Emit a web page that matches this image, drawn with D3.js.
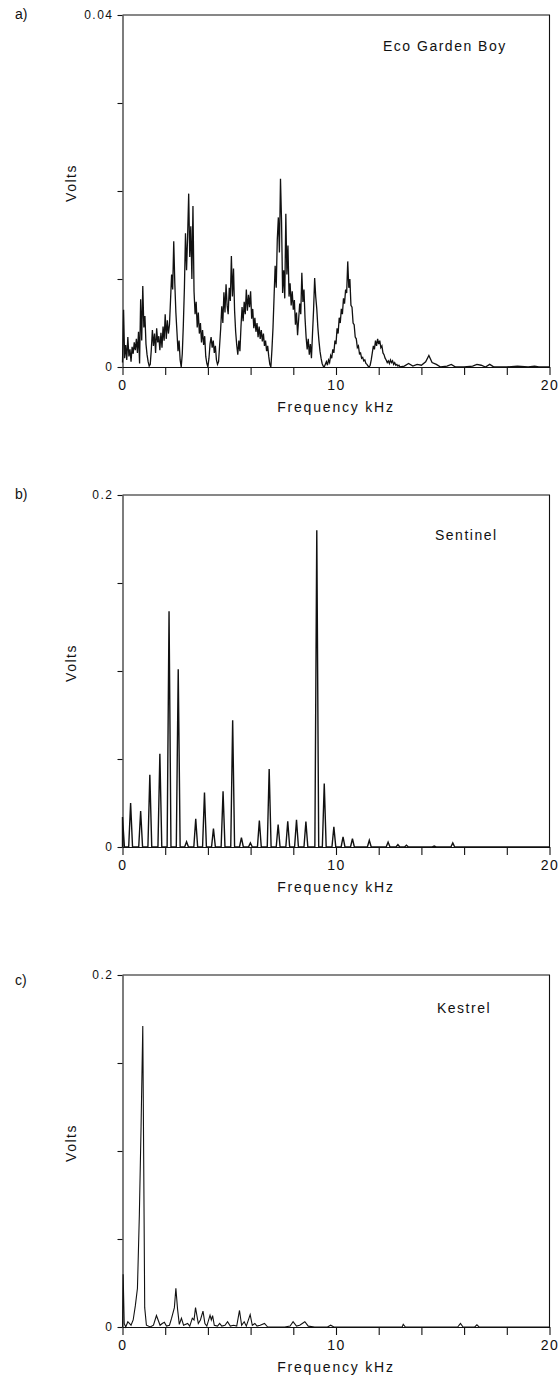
<!DOCTYPE html>
<html lang="en">
<head>
<meta charset="UTF-8">
<title>Frequency spectra</title>
<script src="https://cdn.jsdelivr.net/npm/d3@7"></script>
<style>
  body { margin: 0; background: #fff; }
  svg text { font-family: "Liberation Sans", Arial, Helvetica, sans-serif; fill: #111; }
</style>
</head>
<body>
<script>
// ---- data ----
// a) Eco Garden Boy, mV, sampled every 0.05 kHz from 0 to 13 kHz
const ecoStep = 0.05
const ecoVolts = [
  0.5, 6.5, 1.0, 2.5, 0.8, 3.4, 1.2, 2.0, 0.6, 2.3, 1.5, 2.8, 1.9, 3.2, 1.6, 4.0, 0.4, 7.7, 3.0, 9.2,
  4.5, 5.8, 2.6, 1.4, 0.6, 0.1, 0.3, 2.0, 4.2, 2.4, 3.8, 1.6, 4.4, 2.8, 3.5, 1.9, 3.9, 2.2, 4.6, 3.0,
  6.0, 3.2, 5.3, 3.8, 4.8, 7.6, 10.5, 8.8, 14.3, 9.5, 6.2, 4.0, 1.8, 3.0, 0.8, 0.0, 1.5, 4.8, 9.0, 15.2,
  11.0, 14.8, 19.7, 12.5, 16.0, 10.0, 18.3, 8.6, 6.0, 7.4, 4.5, 6.2, 3.8, 5.0, 2.8, 4.2, 2.5, 3.5, 1.2, 0.4,
  0.0, 1.0, 2.6, 3.4, 2.2, 3.0, 1.6, 2.4, 0.8, 0.3, 0.6, 2.5, 4.4, 6.9, 5.0, 8.5, 6.2, 9.4, 7.0, 6.0,
  9.0, 7.5, 12.6, 8.0, 11.2, 6.4, 4.0, 2.5, 1.4, 3.0, 1.8, 4.6, 6.8, 5.2, 7.4, 6.0, 8.8, 6.4, 8.2, 6.8,
  8.6, 5.5, 6.6, 4.4, 5.6, 4.0, 5.0, 3.4, 4.6, 3.2, 4.2, 2.9, 3.8, 2.4, 3.0, 1.8, 2.4, 1.2, 0.3, 0.0,
  2.0, 4.5, 8.0, 11.5, 9.0, 14.5, 17.0, 13.0, 21.4, 16.5, 8.4, 11.0, 7.8, 17.4, 10.5, 13.8, 8.0, 9.5, 7.0, 8.6,
  6.5, 7.6, 4.8, 6.2, 3.6, 5.4, 7.2, 6.0, 10.7, 7.4, 8.8, 5.5, 3.4, 2.0, 3.2, 1.4, 2.6, 1.0, 3.8, 6.5,
  10.1, 8.0, 6.6, 4.5, 3.0, 1.8, 1.0, 0.4, 0.1, 0.0, 0.3, 0.6, 0.2, 0.8, 0.5, 1.3, 1.0, 2.0, 1.6, 3.0,
  2.6, 4.4, 3.8, 5.6, 5.0, 6.6, 6.0, 7.8, 7.2, 8.8, 8.4, 12.0, 9.0, 10.0, 7.0, 6.8, 5.0, 4.8, 3.4, 3.2,
  2.2, 2.4, 1.5, 1.6, 1.0, 1.1, 0.7, 0.8, 0.4, 0.3, 0.1, 0.0, 0.2, 0.8, 1.6, 2.4, 2.0, 3.0, 2.4, 3.2,
  2.6, 3.0, 2.2, 2.4, 1.6, 1.4, 1.0, 0.8, 0.5, 0.7, 0.4, 0.8, 0.5, 0.7, 0.3, 0.5, 0.2, 0.3, 0.1, 0.2,
  0.0
]
const ecoTailFreq = [13.2, 13.4, 13.6, 13.8, 14.0, 14.2, 14.35, 14.5, 14.7, 14.9, 15.2, 15.4, 15.6, 16.0, 16.4, 16.6, 16.8, 17.0, 17.2, 17.4, 18.0, 18.5, 19.0, 19.3, 19.5, 20]
const ecoTailVolts = [0.1, 0.4, 0.1, 0.3, 0.2, 0.6, 1.3, 0.5, 0.3, 0.0, 0.1, 0.3, 0.0, 0.0, 0.1, 0.3, 0.2, 0.0, 0.3, 0.0, 0.0, 0.1, 0.0, 0.1, 0.0, 0.0]

// b) Sentinel, harmonic peaks (kHz, V)
const sentFreq = [0.0, 0.38, 0.85, 1.28, 1.75, 2.18, 2.61, 3.0, 3.43, 3.84, 4.26, 4.71, 5.16, 5.57, 5.99, 6.41, 6.87, 7.29, 7.74, 8.15, 8.59, 9.10, 9.45, 9.90, 10.33, 10.77, 11.56, 12.44, 12.90, 13.30, 14.60, 15.47]
const sentVolts = [0.017, 0.025, 0.0205, 0.041, 0.053, 0.134, 0.101, 0.003, 0.016, 0.031, 0.0104, 0.0316, 0.072, 0.0053, 0.0023, 0.015, 0.0443, 0.0127, 0.0146, 0.0155, 0.0144, 0.180, 0.036, 0.0114, 0.0057, 0.0047, 0.0038, 0.0028, 0.0013, 0.001, 0.0005, 0.0023]

// c) Kestrel (kHz, V)
const kesFreq = [0, 0.03, 0.08, 0.15, 0.25, 0.4, 0.5, 0.6, 0.7, 0.79, 0.87, 0.95, 1.04, 1.12, 1.3, 1.45, 1.59, 1.76, 1.86, 1.96, 2.06, 2.2, 2.3, 2.43, 2.5, 2.58, 2.66, 2.76, 2.86, 3.05, 3.15, 3.27, 3.35, 3.42, 3.55, 3.65, 3.77, 3.86, 3.95, 4.1, 4.16, 4.22, 4.3, 4.45, 4.55, 4.65, 4.8, 4.92, 5.05, 5.2, 5.35, 5.48, 5.58, 5.7, 5.8, 5.98, 6.08, 6.2, 6.3, 6.45, 6.65, 6.8, 7.0, 7.6, 7.85, 7.99, 8.15, 8.3, 8.54, 8.7, 9.0, 9.6, 9.75, 9.9, 10.5, 12.0, 13.1, 13.15, 13.25, 15.7, 15.83, 15.95, 16.5, 16.6, 16.7, 20]
const kesVolts = [0.0, 0.030, 0.002, 0.0, 0.003, 0.001, 0.004, 0.012, 0.022, 0.064, 0.114, 0.171, 0.011, 0.001, 0.0, 0.001, 0.0065, 0.001, 0.002, 0.0027, 0.0005, 0.001, 0.005, 0.011, 0.022, 0.010, 0.0015, 0.005, 0.001, 0.002, 0.0005, 0.005, 0.004, 0.011, 0.002, 0.004, 0.009, 0.002, 0.0005, 0.0067, 0.004, 0.0065, 0.001, 0.0005, 0.002, 0.0005, 0.001, 0.003, 0.0005, 0.001, 0.0005, 0.0094, 0.001, 0.003, 0.0005, 0.007, 0.001, 0.002, 0.0005, 0.001, 0.002, 0.0, 0.0, 0.0, 0.0005, 0.003, 0.0005, 0.001, 0.003, 0.0005, 0.0, 0.0, 0.001, 0.0, 0.0, 0.0, 0.0, 0.0015, 0.0, 0.0, 0.002, 0.0, 0.0, 0.0012, 0.0, 0.0]

const xTicks = [0, 2, 4, 6, 8, 10, 12, 14, 16, 18, 20]
const xLabels = [0, 10, 20]

// ---- layout ----
const width = 558, height = 1376
const left = 122.5, right = 549.5, plotH = 352
const peakHalf = 0.09 // kHz half width of a Sentinel spike

const ecoPts = ecoVolts.map((v, i) => [i * ecoStep, v / 1000])
  .concat(ecoTailFreq.map((f, i) => [f, ecoTailVolts[i] / 1000]))

const sentPts = []
sentFreq.forEach((f, i) => {
  sentPts.push([Math.max(0, f - peakHalf), 0], [f, sentVolts[i]], [f + peakHalf, 0])
})
sentPts.push([20, 0])

const kesPts = kesFreq.map((f, i) => [f, kesVolts[i]])

const panels = [
  { tag: 'a)', top: 15, ymax: 0.04, topLabel: '0.04', name: 'Eco Garden Boy', nameX: 383, nameDy: 36, tagDy: 4, pts: ecoPts, sw: 1.3 },
  { tag: 'b)', top: 495, ymax: 0.2, topLabel: '0.2', name: 'Sentinel', nameX: 435, nameDy: 45, tagDy: 4, pts: sentPts, sw: 1.4 },
  { tag: 'c)', top: 975, ymax: 0.2, topLabel: '0.2', name: 'Kestrel', nameX: 437, nameDy: 38, tagDy: 10, pts: kesPts, sw: 1.1 }
]

const svg = d3.select('body').append('svg')
    .attr('width', width)
    .attr('height', height)

const x = d3.scaleLinear().domain([0, 20]).range([left, right])

panels.forEach(p => {
  const y = d3.scaleLinear().domain([0, p.ymax]).range([p.top + plotH, p.top])
  const g = svg.append('g')

  // frame (top + right)
  g.append('path')
      .attr('d', `M${x(0)},${y(p.ymax)}H${x(20)}V${y(0)}`)
      .attr('fill', 'none')
      .attr('stroke', '#111')
      .attr('stroke-width', 1.1)

  const yTicks = [0, 0.25, 0.5, 0.75, 1].map(k => k * p.ymax)
  g.append('g')
      .attr('transform', `translate(${left},0)`)
      .call(d3.axisLeft(y).tickValues(yTicks).tickSize(5).tickSizeOuter(0).tickPadding(4)
        .tickFormat(d => d === 0 ? '0' : (d === p.ymax ? p.topLabel : '')))
      .call(s => s.selectAll('text').attr('font-size', 12).attr('letter-spacing', 1.5).attr('font-family', null))

  g.append('g')
      .attr('transform', `translate(0,${y(0)})`)
      .call(d3.axisBottom(x).tickValues(xTicks).tickSize(8).tickSizeOuter(0).tickPadding(5)
        .tickFormat(d => xLabels.includes(d) ? d : ''))
      .call(s => s.selectAll('text').attr('font-size', 14).attr('letter-spacing', 1.5).attr('font-family', null))

  svg.selectAll('.domain, .tick line').attr('stroke', '#111').attr('stroke-width', 1.1)

  // spectrum
  g.append('path')
      .datum(p.pts)
      .attr('fill', 'none')
      .attr('stroke', '#111')
      .attr('stroke-width', p.sw)
      .attr('d', d3.line().x(d => x(d[0])).y(d => y(d[1])))

  // texts
  g.append('text')
      .attr('x', 15).attr('y', p.top + p.tagDy)
      .attr('font-size', 14)
      .text(p.tag)

  g.append('text')
      .attr('x', p.nameX).attr('y', p.top + p.nameDy)
      .attr('font-size', 14).attr('letter-spacing', 1.5)
      .text(p.name)

  g.append('text')
      .attr('transform', `translate(76,${p.top + 168}) rotate(-90)`)
      .attr('text-anchor', 'middle')
      .attr('font-size', 14).attr('letter-spacing', 1.5)
      .text('Volts')

  g.append('text')
      .attr('x', (left + right) / 2).attr('y', p.top + plotH + 45)
      .attr('text-anchor', 'middle')
      .attr('font-size', 14).attr('letter-spacing', 1.8)
      .text('Frequency kHz')
})
</script>
</body>
</html>
